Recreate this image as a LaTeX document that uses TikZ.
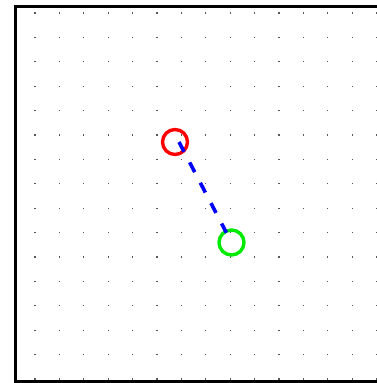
\documentclass[tikz,border=0pt]{standalone}
\usepackage{tikz}
\usetikzlibrary{arrows.meta, positioning, calc}
\usepackage{xcolor}
\definecolor{startc}{RGB}{255,0,0}
\definecolor{goalc}{RGB}{0,235,0}
\definecolor{pathc}{RGB}{0,0,255}

\begin{document}
\begin{tikzpicture}[x=1pt, y=-1pt,
      marker/.style={circle, line width=3.4pt, inner sep=0pt,
                     minimum size=25pt},
      link/.style={draw=pathc, line width=3.6pt, dash pattern=on 11pt off 12pt},
      griddot/.style={fill=black!65}
    ]
    \useasboundingbox (0,0) rectangle (377,383);
    \begin{scope}
      \clip (0,0) rectangle (377,383);
      % dotted background
      \foreach \i in {0,...,14} {
        \foreach \j in {0,...,15} {
          \fill[griddot] ($(35+24.4*\i-0.6, 13+24.4*\j-0.6)$) rectangle ++(1.2,1.2);
        }
      }
      % frame
      \draw[line width=3.8pt] (15.5,6.5) rectangle (395,381.5);
    \end{scope}
    \node[marker, draw=startc] (src) at (175,142) {};
    \node[marker, draw=goalc]  (dst) at (231.5,242.5) {};
    \draw[link, shorten >=11pt] ([xshift=4pt]src.center) -- (dst.center);
  \end{tikzpicture}
\end{document}
